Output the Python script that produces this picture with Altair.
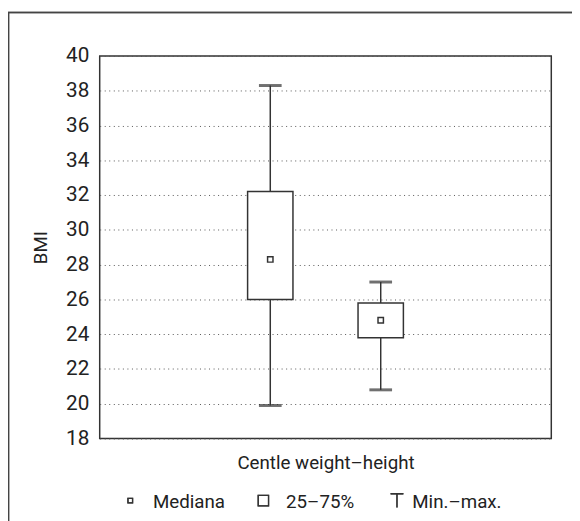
import altair as alt
import pandas as pd

# ---- data ----
positions = [1, 2]
min_vals = [19.9, 20.8]
q1_vals = [26.0, 23.8]
median_vals = [28.3, 24.8]
q3_vals = [32.2, 25.8]
max_vals = [38.3, 27.0]

y_ticks = [18, 20, 22, 24, 26, 28, 30, 32, 34, 36, 38, 40]
legend_labels = ["Mediana", "25–75%", "Min.–max."]
x_title = "Centle weight–height"
y_title = "BMI"

FONT = "Liberation Sans Narrow, Roboto, sans-serif"
INK = "#333333"

df = pd.DataFrame({
    "pos": positions,
    "min": min_vals,
    "q1": q1_vals,
    "median": median_vals,
    "q3": q3_vals,
    "max": max_vals,
})

W, H = 458, 388

x_axis = alt.Axis(title=x_title, labels=False, ticks=False, domain=False, grid=False,
                  titleFont=FONT, titleFontSize=19, titleFontWeight="normal",
                  titleColor="#222", titleX=W / 2, titleY=30,
                  titleBaseline="alphabetic", titleAnchor="middle", titleAlign="center")
x_scale = alt.Scale(domain=[-0.5, 3.5], nice=False, zero=False)
y_scale = alt.Scale(domain=[18, 40], nice=False, zero=False)
y_axis = alt.Axis(title=y_title, values=y_ticks, ticks=False, domain=False,
                  labelOverlap=False, labelFlush=False,
                  labelFont=FONT, labelFontSize=21, labelColor="#222", labelPadding=11,
                  grid=True, gridColor="#555555", gridDash=[1, 3.6], gridWidth=1,
                  titleFont=FONT, titleFontSize=19, titleFontWeight="normal", titleColor="#222",
                  titleX=-60, titleY=H / 2, titleAngle=-90, titleBaseline="middle",
                  titleAlign="center")


def X():
    return alt.X("pos:Q", scale=x_scale, axis=x_axis)


def Y(field):
    return alt.Y(f"{field}:Q", scale=y_scale, axis=y_axis)


base = alt.Chart(df)

whisker = base.mark_rule(color=INK, strokeWidth=1.5).encode(
    x=X(), y=Y("min"), y2="max:Q")
caps_top = base.mark_tick(orient="horizontal", size=23, thickness=3, color=INK).encode(
    x=X(), y=Y("max"))
caps_bot = base.mark_tick(orient="horizontal", size=23, thickness=3, color=INK).encode(
    x=X(), y=Y("min"))
box = base.mark_bar(size=46, fill="white", stroke=INK, strokeWidth=1.5).encode(
    x=X(), y=Y("q1"), y2="q3:Q")
med = base.mark_point(shape="square", size=30, filled=False, color=INK, strokeWidth=1.5,
                      opacity=1).encode(x=X(), y=Y("median"))

# ---- outer frame (cropped by the canvas on the right and bottom) ----
frame = alt.Chart(df).mark_rect(fill=None, stroke="#444444", strokeWidth=1.5).encode(
    x=alt.value(-92.5), x2=alt.value(700), y=alt.value(-44), y2=alt.value(700))

# ---- legend ----
leg_y = 451
leg_base = 458
leg_med = alt.Chart(df).mark_point(shape="square", size=22, filled=False, color=INK,
                                   strokeWidth=1.3, opacity=1).encode(
    x=alt.value(31), y=alt.value(leg_y))
leg_box = alt.Chart(df).mark_point(shape="square", size=110, filled=False, color=INK,
                                   strokeWidth=1.3, opacity=1).encode(
    x=alt.value(166), y=alt.value(leg_y))
leg_t_bar = alt.Chart(df).mark_rule(color=INK, strokeWidth=1.5).encode(
    x=alt.value(295), x2=alt.value(308), y=alt.value(leg_y - 7))
leg_t_stem = alt.Chart(df).mark_rule(color=INK, strokeWidth=1.3).encode(
    x=alt.value(301.5), y=alt.value(leg_y - 7), y2=alt.value(leg_y + 7))

leg_texts = []
for lab, xx in zip(legend_labels, [54, 189, 317]):
    leg_texts.append(
        alt.Chart(pd.DataFrame({"label": [lab]})).mark_text(
            font=FONT, fontSize=19, color="#222", align="left", baseline="alphabetic"
        ).encode(x=alt.value(xx), y=alt.value(leg_base), text="label:N")
    )

chart = alt.layer(
    frame, whisker, caps_top, caps_bot, box, med,
    leg_med, leg_box, leg_t_bar, leg_t_stem, *leg_texts
).properties(
    width=W, height=H,
    background="white",
    autosize=alt.AutoSizeParams(type="none"),
    padding={"left": 93, "top": 45, "right": 21, "bottom": 80},
).configure_view(
    stroke=INK, strokeWidth=1.5
)

chart.save("out.html", embed_options={"renderer": "svg", "actions": False})
